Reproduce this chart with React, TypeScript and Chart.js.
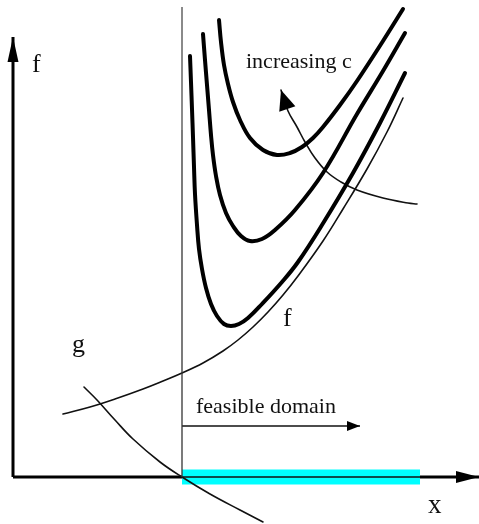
import React, { useEffect, useRef } from "react";
import { Chart, registerables } from "chart.js";

Chart.register(...registerables);

// Coordinates: x to the right of the f-axis, y above the x-axis.
const curveHighC: [number, number][] = [
  [206, 457], [208, 435], [211, 412], [215, 393], [220, 375], [227, 357], [237, 339],
  [250, 327], [264, 322], [277, 324], [289, 330], [300, 339], [310, 350], [327, 372],
  [344, 396], [370, 436], [390, 468],
];
const curveMidC: [number, number][] = [
  [190, 443], [192, 417], [194, 392], [196, 367], [198, 342], [200, 322], [203, 301],
  [207, 282], [213, 264], [220, 251], [228, 241], [237, 236], [249, 238], [262, 247],
  [282, 267], [310, 304], [344, 363], [370, 406], [392, 444],
];
const curveLowC: [number, number][] = [
  [177, 421], [178, 395], [179, 368], [180, 340], [181, 310], [182, 283], [184, 252],
  [186, 228], [189, 208], [193, 189], [198, 173], [204, 161], [211, 153], [218, 151],
  [226, 153], [235, 159], [249, 173], [269, 195], [285, 215], [309, 252], [340, 304],
  [367, 354], [392, 404],
];
const objectiveF: [number, number][] = [
  [50, 63], [77, 70], [102, 78], [130, 88], [150, 96], [169, 104], [190, 114], [210, 126],
  [225, 137], [240, 150], [255, 165], [270, 182], [285, 201], [310, 236], [330, 268],
  [354, 308], [374, 345], [390, 379],
];
const constraintG: [number, number][] = [
  [71, 90], [84, 77], [102, 57], [120, 38], [147, 15], [169, 0], [197, -17], [227, -33],
  [250, -45],
];
const increasingArrow: [number, number][] = [
  [404, 273], [395, 274], [370, 279], [344, 287], [328, 295], [314, 305], [302, 319],
  [292, 335], [284, 350], [275, 366], [268, 387],
];
const boundaryTop: [number, number][] = [[169, 470], [169, 347]];
const boundaryLow: [number, number][] = [[169, 347], [169, 0]];
const feasibleBand: [number, number][] = [[169, 0], [407, 0]];
const feasibleArrow: [number, number][] = [[169, 51], [347, 51]];
const axisY: [number, number][] = [[0, 0], [0, 440]];
const axisX: [number, number][] = [[0, 0], [466, 0]];

const labelTexts = ["f", "increasing c", "f", "g", "feasible domain", "x"];

const toPts = (a: [number, number][]) => a.map(([x, y]) => ({ x, y }));

export default function App() {
  const ref = useRef<HTMLCanvasElement | null>(null);

  useEffect(() => {
    if (!ref.current) return;
    document.body.style.margin = "0";

    const line = (data: [number, number][], width: number, color = "#000", extra: any = {}) => ({
      data: toPts(data),
      showLine: true,
      borderColor: color,
      backgroundColor: color,
      borderWidth: width,
      pointRadius: 0,
      tension: 0.4,
      fill: false,
      borderCapStyle: "round",
      borderJoinStyle: "round",
      order: 0,
      ...extra,
    });

    const arrowHeads: { idx: number; len: number; half: number }[] = [];

    const datasets: any[] = [
      line(axisX, 3, "#000", { order: 12, borderCapStyle: "butt" }),
      line(feasibleBand, 15, "#00ffff", { order: 11, borderCapStyle: "butt" }),
      line(feasibleBand, 1.3, "#111", { order: 10, borderCapStyle: "butt" }),
      line(axisY, 3, "#000", { borderCapStyle: "butt" }),
      line(boundaryTop, 2, "#8a8a8a", { borderCapStyle: "butt" }),
      line(boundaryLow, 1.3, "#333", { borderCapStyle: "butt" }),
      line(curveHighC, 4),
      line(curveMidC, 4),
      line(curveLowC, 4),
      line(objectiveF, 1.6, "#111"),
      line(constraintG, 1.6, "#111"),
      line(increasingArrow, 1.6, "#111"),
      line(feasibleArrow, 1.6, "#111", { borderCapStyle: "butt" }),
    ];
    arrowHeads.push({ idx: 0, len: 23, half: 6 });
    arrowHeads.push({ idx: 3, len: 25, half: 5.5 });
    arrowHeads.push({ idx: 11, len: 20, half: 8.5 });
    arrowHeads.push({ idx: 12, len: 13, half: 5 });

    const labelPlacement = [
      { x: 19, y: 405, size: 26 },
      { x: 233, y: 409, size: 22 },
      { x: 270, y: 151, size: 26 },
      { x: 59, y: 125, size: 26 },
      { x: 183, y: 64, size: 22 },
      { x: 415, y: -36, size: 27 },
    ];

    const decor = {
      id: "decor",
      afterDatasetsDraw(chart: any) {
        const ctx = chart.ctx;
        const xs = chart.scales.x;
        const ys = chart.scales.y;
        ctx.save();
        arrowHeads.forEach(({ idx, len, half }) => {
          const d = chart.data.datasets[idx].data;
          const a = d[d.length - 2];
          const b = d[d.length - 1];
          const ax = xs.getPixelForValue(a.x), ay = ys.getPixelForValue(a.y);
          const bx = xs.getPixelForValue(b.x), by = ys.getPixelForValue(b.y);
          const ang = Math.atan2(by - ay, bx - ax);
          const c = Math.cos(ang), s = Math.sin(ang);
          const baseX = bx - c * len, baseY = by - s * len;
          ctx.beginPath();
          ctx.moveTo(bx, by);
          ctx.lineTo(baseX - s * half, baseY + c * half);
          ctx.lineTo(baseX + s * half, baseY - c * half);
          ctx.closePath();
          ctx.fillStyle = "#000";
          ctx.fill();
        });
        ctx.fillStyle = "#111";
        ctx.textAlign = "left";
        ctx.textBaseline = "alphabetic";
        labelTexts.forEach((t, i) => {
          const p = labelPlacement[i];
          ctx.font = `${p.size}px "Liberation Serif", "Times New Roman", serif`;
          ctx.fillText(t, xs.getPixelForValue(p.x), ys.getPixelForValue(p.y));
        });
        ctx.restore();
      },
    };

    const chart = new Chart(ref.current, {
      type: "scatter",
      data: { datasets },
      options: {
        responsive: false,
        devicePixelRatio: 1,
        animation: false,
        layout: { padding: 0 },
        plugins: { legend: { display: false }, tooltip: { enabled: false } },
        scales: {
          x: { type: "linear", min: -13, max: 466, display: false },
          y: { type: "linear", min: -47, max: 477, display: false },
        },
      },
      plugins: [decor],
    } as any);

    return () => chart.destroy();
  }, []);

  return (
    <canvas
      ref={ref}
      width={479}
      height={524}
      style={{ position: "fixed", left: 0, top: 0, width: 479, height: 524, background: "#fff" }}
    />
  );
}
